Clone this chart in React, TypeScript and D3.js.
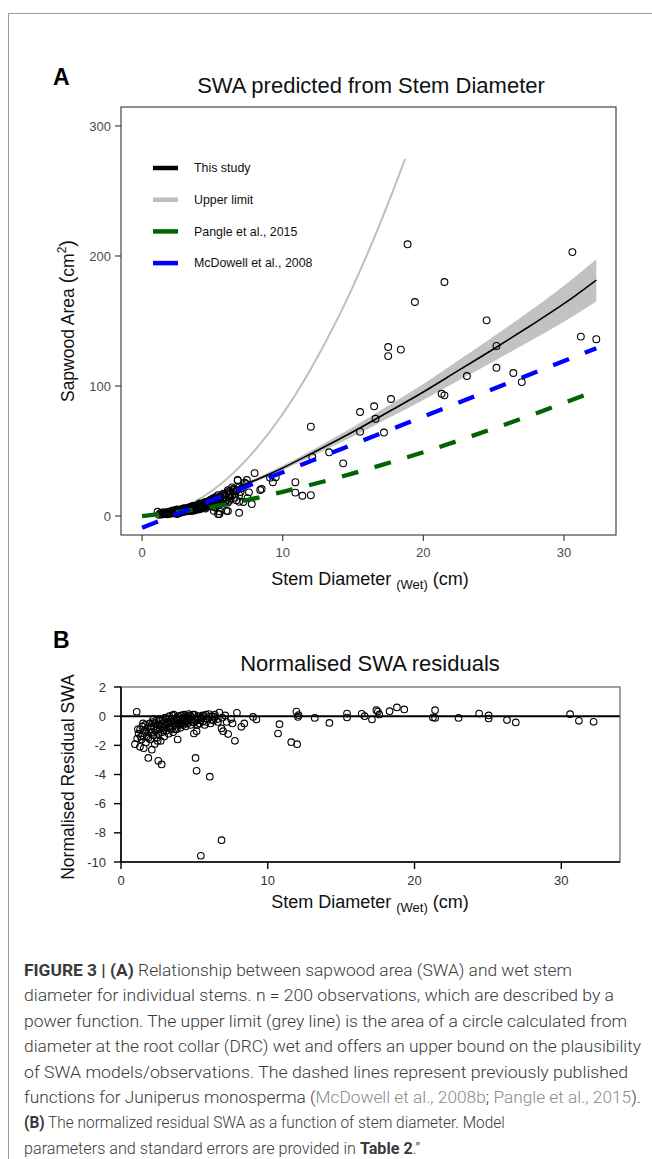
import React from "react";
import * as d3 from "d3";

const W = 652;
const H = 1159;

// ---------- Panel A data ----------
const obsPoints: [number, number][] = [
  [18.88, 209], [30.6, 203], [21.5, 180], [19.4, 164.6], [24.5, 150.5], [17.5, 130], [17.5, 123],
  [18.4, 128], [25.2, 130.8], [31.2, 138], [32.3, 136], [25.2, 114], [26.4, 110], [27.0, 103],
  [23.1, 107.7], [21.3, 94], [21.5, 92.8], [17.7, 90], [12.0, 68.7], [15.5, 80], [16.5, 84.4],
  [16.6, 74.8], [15.5, 64.9], [17.2, 64.2], [13.3, 49], [14.3, 40.5], [12.1, 45.4], [8.0, 33], [10.9, 26],
  [10.9, 18], [11.4, 15.6], [12.0, 16], [6.8, 27.7], [7.4, 24.6], [9.1, 29.5], [9.5, 29.8], [9.3, 26],
  [8.4, 20], [8.5, 20.8], [7.6, 18.2], [7.8, 9.2], [7.2, 10.8], [6.9, 11], [6.9, 2.5], [6.1, 3.8],
  [5.5, 1.5], [5.1, 4], [6.5, 20], [6.2, 19], [6.8, 27.4], [7.3, 25.6], [7.45, 27.7], [1.1, 3.3],
  [5.4, 1.5], [5.5, 3.6], [6.0, 4],
  [1.2, 1.0], [1.4, 1.2], [1.5, 2.0], [1.6, 1.5], [1.7, 2.6], [1.8, 1.4], [1.9, 2.2], [2.0, 3.1],
  [2.0, 1.8], [2.1, 2.6], [2.2, 3.5], [2.3, 2.0], [2.3, 4.1], [2.4, 2.9], [2.5, 3.6], [2.5, 1.6],
  [2.6, 4.4], [2.7, 2.5], [2.8, 3.9], [2.8, 5.2], [2.9, 3.0], [3.0, 4.6], [3.0, 6.0], [3.1, 3.8],
  [3.2, 5.4], [3.3, 4.2], [3.3, 6.6], [3.4, 5.0], [3.5, 7.2], [3.5, 3.9], [3.6, 5.9], [3.7, 6.8],
  [3.8, 4.8], [3.9, 7.6], [4.0, 6.2], [4.0, 8.8], [4.1, 5.3], [4.2, 7.4], [4.3, 9.5], [4.4, 6.6],
  [4.5, 8.3], [4.5, 10.8], [4.6, 7.0], [4.7, 9.6], [4.8, 11.9], [4.9, 8.4], [5.0, 13.2], [5.0, 10.1],
  [5.2, 12.0], [5.3, 9.0], [5.3, 15.1], [5.5, 13.8], [5.6, 11.0], [5.7, 16.5], [5.8, 12.6],
  [5.9, 14.6], [6.0, 17.8], [6.1, 10.4], [6.2, 15.0], [6.3, 13.5], [6.4, 15.9], [6.5, 21.0],
  [6.6, 16.8], [6.7, 12.2], [6.9, 22.3], [7.0, 18.5], [1.3, 2.1], [1.5, 3.0], [1.8, 2.9], [2.1, 3.9],
  [2.4, 4.6], [2.6, 3.1], [2.9, 5.6], [3.1, 5.1], [3.4, 6.2], [3.6, 4.4], [3.8, 6.0], [4.1, 7.9],
  [4.3, 6.8], [4.6, 9.1], [4.8, 7.6], [5.1, 11.3], [5.4, 8.1], [5.6, 14.9], [5.9, 10.9], [6.3, 17.2],
  [2.2, 2.4], [2.7, 4.0], [3.2, 3.7], [3.7, 5.3], [4.2, 6.0], [4.4, 9.9], [4.9, 12.6], [5.2, 6.6],
  [1.6, 2.3], [1.9, 3.4], [2.0, 2.6], [2.2, 4.3], [2.4, 3.3], [2.5, 5.0], [2.6, 2.2], [2.8, 4.5],
  [3.0, 3.4], [3.0, 5.3], [3.2, 6.1], [3.3, 4.8], [3.5, 5.5], [3.6, 7.8], [3.7, 4.2], [3.9, 6.4],
  [4.0, 5.0], [4.1, 9.6], [4.2, 8.3], [4.4, 7.5], [4.5, 5.8], [4.6, 10.2], [4.7, 8.0], [4.9, 10.6],
  [5.0, 7.2], [5.1, 13.9], [5.3, 11.2], [5.4, 16.0], [5.6, 9.4], [5.7, 13.0], [5.8, 17.2],
  [6.0, 12.4], [6.1, 19.8], [6.2, 11.8], [6.4, 22.0], [6.6, 14.0], [6.7, 19.5], [6.9, 16.0],
  [7.1, 21.6], [7.5, 13.8],
];

const fitD = [1, 2, 3, 5, 7.5, 10, 12.5, 15, 17.5, 20, 22.5, 25, 27.5, 30, 32.3];
const fitSWA = [1.63, 4.18, 7.43, 14.9, 25.0, 37.0, 50.6, 64.8, 80.0, 95.4, 112, 128.5, 145.6, 163.3, 181.5];
const fitLower = [1.43, 3.85, 6.98, 14.2, 23.8, 35.2, 48.1, 61.2, 75.2, 89.2, 104.2, 118.9, 134.0, 149.4, 165.0];
const fitUpper = [1.83, 4.51, 7.88, 15.6, 26.3, 38.9, 53.1, 68.4, 84.8, 101.6, 119.8, 138.1, 157.2, 177.2, 197.5];

const upperD = [1, 2, 4, 6, 8, 10, 12, 14, 16, 18, 18.7];
const upperSWA = [0.79, 3.14, 12.6, 28.3, 50.3, 78.5, 113.1, 153.9, 201.1, 254.5, 274.6];

const pangleD = [0, 5, 10, 15, 20, 25, 30, 32.3];
const pangleSWA = [0, 7.0, 18.6, 32.8, 49.1, 67.3, 86.9, 96.4];

const mcdD = [0, 10, 20, 32.3];
const mcdSWA = [-9, 33.7, 76.4, 129];

const xTicksA = [0, 10, 20, 30];
const yTicksA = [0, 100, 200, 300];

const legendLabels = ["This study", "Upper limit", "Pangle et al., 2015", "McDowell et al., 2008"];
const legendColors = ["#000000", "#BEBEBE", "#006400", "#0000FF"];

// ---------- Panel B data ----------
const residPoints: [number, number][] = [
  [1.07, 0.3], [0.95, -1.92], [1.1, -1.53], [1.29, -2.1], [1.2, -1.2], [1.3, -0.9], [1.4, -1.6],
  [1.45, -0.7], [1.5, -1.3], [1.55, -2.2], [1.6, -1.0], [1.65, -0.6], [1.7, -1.8], [1.75, -1.4],
  [1.8, -0.8], [1.86, -2.86], [1.9, -1.1], [1.95, -0.5], [2.0, -1.6], [2.05, -0.9], [2.1, -2.3],
  [2.15, -0.4], [2.2, -1.3], [2.25, -0.7], [2.3, -1.9], [2.35, -1.0], [2.4, -0.3], [2.45, -1.5],
  [2.5, -0.6], [2.54, -3.06], [2.55, -1.2], [2.6, -0.2], [2.65, -0.9], [2.7, -1.7], [2.77, -3.31],
  [2.75, -0.5], [2.8, -1.1], [2.85, -0.3], [2.9, -0.8], [2.95, -1.4], [3.0, -0.1], [3.05, -0.6],
  [3.1, -1.0], [3.15, -0.4], [3.2, -0.8], [3.25, -1.2], [3.3, 0.0], [3.35, -0.5], [3.4, -0.9],
  [3.45, -0.2], [3.5, -0.7], [3.55, -1.1], [3.6, 0.1], [3.65, -0.4], [3.7, -0.6], [3.75, -0.2],
  [3.8, -0.9], [3.86, -1.6], [3.9, 0.0], [3.95, -0.5], [4.0, -0.3], [4.05, -0.8], [4.1, 0.05],
  [4.15, -0.4], [4.2, -0.2], [4.25, -0.6], [4.3, 0.1], [4.35, -0.3], [4.4, -0.7], [4.5, -0.1],
  [4.55, -0.5], [4.6, 0.15], [4.7, -0.3], [4.75, -0.6], [4.8, -0.05], [4.9, -0.4], [4.97, -1.19],
  [5.0, 0.1], [5.08, -2.86], [5.1, -0.3], [5.15, -1.03], [5.15, -3.75], [5.2, -0.6], [5.25, 0.0],
  [5.3, -0.2], [5.35, -0.5], [5.44, -9.57], [5.5, -0.1], [5.55, 0.05], [5.6, -0.35], [5.7, -0.6],
  [5.8, 0.1], [5.9, -0.2], [6.0, -0.05], [6.05, -4.15], [6.1, -0.5], [6.2, 0.0], [6.3, -0.3],
  [6.4, 0.1], [6.6, -0.2], [6.7, 0.25], [6.85, -0.84], [6.85, -8.5], [6.96, -1.03], [6.9, -0.1],
  [7.1, 0.05], [7.2, -0.4], [7.3, -1.23], [7.76, -1.69], [7.5, -0.2], [7.6, -0.5], [7.9, 0.23],
  [8.2, -0.73], [8.4, -0.5], [9.0, -0.05], [9.23, -0.23], [10.8, -0.55], [10.7, -1.19], [11.6, -1.78],
  [12.0, -1.92], [11.95, 0.32], [12.06, -0.05], [12.1, 0.07], [13.2, -0.12], [14.2, -0.46],
  [15.4, 0.18], [15.4, -0.09], [16.4, 0.16], [16.6, 0.0], [17.1, -0.23], [17.4, 0.41], [17.5, 0.32],
  [17.6, 0.12], [18.3, 0.34], [18.8, 0.6], [19.3, 0.46], [21.4, 0.41], [21.25, -0.09], [21.4, -0.12],
  [23.0, -0.12], [24.4, 0.18], [25.05, 0.05], [25.05, -0.16], [26.3, -0.27], [26.9, -0.43],
  [30.6, 0.14], [31.2, -0.32], [32.2, -0.39],
  [1.15, -0.9], [1.35, -1.4], [1.5, -0.5], [1.7, -1.1], [1.85, -1.5], [2.0, -0.7], [2.1, -1.1],
  [2.2, -0.2], [2.3, -0.5], [2.4, -0.9], [2.5, -1.7], [2.6, -0.6], [2.7, -0.3], [2.8, -0.7],
  [2.9, -1.0], [3.0, -0.4], [3.1, -0.2], [3.2, -0.5], [3.3, -0.7], [3.4, -0.4], [3.5, 0.05],
  [3.6, -0.3], [3.7, -0.9], [3.8, -0.1], [3.9, -0.3], [4.0, -0.6], [4.1, -0.2], [4.2, -0.5],
  [4.3, -0.1], [4.4, 0.0], [4.5, -0.35], [4.6, -0.15], [4.7, 0.05], [4.8, -0.25], [4.9, 0.1],
  [5.0, -0.45], [5.2, -0.15], [5.4, -0.3], [5.6, 0.0], [5.8, -0.4], [6.0, 0.15], [6.2, -0.25],
  [6.4, -0.05], [6.6, -0.4],
];

const xTicksB = [0, 10, 20, 30];
const yTicksB = [2, 0, -2, -4, -6, -8, -10];

// ---------- Caption ----------
type Seg = { t: string; b?: boolean; g?: boolean };
const captionLines: Seg[][] = [
  [{ t: "FIGURE 3 | (A)", b: true }, { t: " Relationship between sapwood area (SWA) and wet stem" }],
  [{ t: "diameter for individual stems. n = 200 observations, which are described by a" }],
  [{ t: "power function. The upper limit (grey line) is the area of a circle calculated from" }],
  [{ t: "diameter at the root collar (DRC) wet and offers an upper bound on the plausibility" }],
  [{ t: "of SWA models/observations. The dashed lines represent previously published" }],
  [
    { t: "functions for Juniperus monosperma (" },
    { t: "McDowell et al., 2008b", g: true },
    { t: "; " },
    { t: "Pangle et al., 2015", g: true },
    { t: ")." },
  ],
  [{ t: "(B)", b: true }, { t: " The normalized residual SWA as a function of stem diameter. Model" }],
  [{ t: "parameters and standard errors are provided in " }, { t: "Table 2", b: true }, { t: ".\u201D" }],
];
const captionWidths: (number | undefined)[] = [548, 590, 603, 617, 604, 617, undefined, undefined];
const captionScaleX = [1, 1, 1, 1, 1, 1, 0.908, 0.952];

const FONT = "'Liberation Sans', Arial, Helvetica, sans-serif";

export default function App() {
  // Panel A scales
  const xA = d3.scaleLinear().domain([-1.5, 33.7]).range([121, 616]);
  const yA = d3.scaleLinear().domain([-14.6, 314.6]).range([535, 107]);

  const lineA = (ds: number[], vs: number[], curve: d3.CurveFactory = d3.curveMonotoneX) =>
    d3
      .line<number>()
      .x((_, i) => xA(ds[i]))
      .y((v) => yA(v))
      .curve(curve)(vs) || "";

  const band =
    d3
      .area<number>()
      .x((_, i) => xA(fitD[i]))
      .y0((_, i) => yA(fitLower[i]))
      .y1((_, i) => yA(fitUpper[i]))
      .curve(d3.curveMonotoneX)(fitD) || "";

  // Panel B scales
  const xB = d3.scaleLinear().domain([0, 34]).range([121, 620]);
  const yB = d3.scaleLinear().domain([-10, 2]).range([862, 687]);

  return (
    <svg
      width={W}
      height={H}
      viewBox={`0 0 ${W} ${H}`}
      style={{ position: "absolute", left: 0, top: 0, background: "#fff" }}
      fontFamily={FONT}
    >
      <rect x={0} y={0} width={W} height={H} fill="#fff" />
      {/* frame */}
      <line x1={8} y1={13.5} x2={W} y2={13.5} stroke="#9a9a9a" strokeWidth={1} />
      <line x1={8.5} y1={13} x2={8.5} y2={H} stroke="#9a9a9a" strokeWidth={1} />

      {/* ================= Panel A ================= */}
      <text x={53} y={85} fontSize={23} fontWeight="bold" fill="#000">A</text>
      <text x={371} y={93} fontSize={22} textAnchor="middle" fill="#111">
        SWA predicted from Stem Diameter
      </text>

      <defs>
        <clipPath id="clipA">
          <rect x={121} y={107} width={495} height={428} />
        </clipPath>
      </defs>

      <g clipPath="url(#clipA)">
        <path d={band} fill="#c2c2c2" stroke="none" />
        <path d={lineA(upperD, upperSWA)} fill="none" stroke="#BEBEBE" strokeWidth={2} />
        {obsPoints.map(([d, s], i) => (
          <circle key={i} cx={xA(d)} cy={yA(s)} r={3.4} fill="none" stroke="#000" strokeWidth={1.1} />
        ))}
        <path d={lineA(fitD, fitSWA)} fill="none" stroke="#000" strokeWidth={1.6} />
        <path
          d={lineA(pangleD, pangleSWA)}
          fill="none"
          stroke="#006400"
          strokeWidth={4.3}
          strokeDasharray="17 17"
        />
        <path
          d={lineA(mcdD, mcdSWA, d3.curveLinear)}
          fill="none"
          stroke="#0000FF"
          strokeWidth={4.3}
          strokeDasharray="17 17"
        />
      </g>
      <rect x={121} y={107} width={495} height={428} fill="none" stroke="#333" strokeWidth={1.1} />

      {/* axes A */}
      {yTicksA.map((t) => (
        <g key={t}>
          <line x1={115} x2={121} y1={yA(t)} y2={yA(t)} stroke="#333" strokeWidth={1.1} />
          <text x={111} y={yA(t)} dy="0.35em" fontSize={13} textAnchor="end" fill="#4d4d4d">
            {t}
          </text>
        </g>
      ))}
      {xTicksA.map((t) => (
        <g key={t}>
          <line x1={xA(t)} x2={xA(t)} y1={535} y2={541} stroke="#333" strokeWidth={1.1} />
          <text x={xA(t)} y={557} fontSize={13} textAnchor="middle" fill="#4d4d4d">
            {t}
          </text>
        </g>
      ))}
      <text x={370} y={585} fontSize={18} textAnchor="middle" fill="#111">
        Stem Diameter <tspan fontSize={13} dy={4}>(Wet)</tspan>
        <tspan dy={-4}> (cm)</tspan>
      </text>
      <text transform="translate(74,321) rotate(-90)" fontSize={17.5} textAnchor="middle" fill="#111">
        Sapwood Area <tspan fontSize={20}>(</tspan>cm<tspan fontSize={12} dy={-8}>2</tspan>
        <tspan fontSize={20} dy={8}>)</tspan>
      </text>

      {/* legend */}
      {legendLabels.map((lab, i) => {
        const y = 168 + i * 31.7;
        return (
          <g key={lab}>
            <line x1={153} x2={178} y1={y} y2={y} stroke={legendColors[i]} strokeWidth={4.5} />
            <text x={194} y={y} dy="0.35em" fontSize={12.4} fill="#111">
              {lab}
            </text>
          </g>
        );
      })}

      {/* ================= Panel B ================= */}
      <text x={53} y={648} fontSize={23} fontWeight="bold" fill="#000">B</text>
      <text x={370} y={671} fontSize={22} textAnchor="middle" fill="#111">
        Normalised SWA residuals
      </text>
      <defs>
        <clipPath id="clipB">
          <rect x={121} y={687} width={499} height={175} />
        </clipPath>
      </defs>
      <g clipPath="url(#clipB)">
        <line x1={121} x2={620} y1={yB(0)} y2={yB(0)} stroke="#000" strokeWidth={2} />
      </g>
      {residPoints.map(([d, r], i) => (
        <circle key={i} cx={xB(d)} cy={yB(r)} r={3.3} fill="none" stroke="#000" strokeWidth={1.1} />
      ))}
      <rect x={121} y={687} width={499} height={175} fill="none" stroke="#555" strokeWidth={1.1} />
      <line x1={121} x2={121} y1={687} y2={862} stroke="#000" strokeWidth={1.6} />
      <line x1={121} x2={620} y1={862} y2={862} stroke="#000" strokeWidth={1.6} />
      {yTicksB.map((t) => (
        <g key={t}>
          <line x1={114} x2={121} y1={yB(t)} y2={yB(t)} stroke="#000" strokeWidth={1.4} />
          <text x={106} y={yB(t)} dy="0.35em" fontSize={13} textAnchor="end" fill="#333">
            {t}
          </text>
        </g>
      ))}
      {xTicksB.map((t) => (
        <g key={t}>
          <line x1={xB(t)} x2={xB(t)} y1={862} y2={869} stroke="#000" strokeWidth={1.4} />
          <text x={xB(t)} y={885} fontSize={13} textAnchor="middle" fill="#333">
            {t}
          </text>
        </g>
      ))}
      <text x={370} y={908} fontSize={18} textAnchor="middle" fill="#111">
        Stem Diameter <tspan fontSize={13} dy={4}>(Wet)</tspan>
        <tspan dy={-4}> (cm)</tspan>
      </text>
      <text transform="translate(74,777) rotate(-90)" fontSize={17.5} textAnchor="middle" fill="#111">
        Normalised Residual SWA
      </text>

      {/* ================= Caption ================= */}
      {captionLines.map((segs, i) => (
        <text
          key={i}
          x={0}
          y={0}
          transform={`translate(24,${976 + i * 25.4}) scale(${captionScaleX[i]},1)`}
          fontSize={17}
          fontFamily="Roboto, 'Liberation Sans', sans-serif"
          fontWeight={300}
          fill="#3a3a3a"
          textLength={captionWidths[i]}
          lengthAdjust={captionWidths[i] ? "spacingAndGlyphs" : undefined}
        >
          {segs.map((s, j) => (
            <tspan key={j} fontWeight={s.b ? 700 : 300} fill={s.g ? "#8a8a8a" : "#3a3a3a"}>
              {s.t}
            </tspan>
          ))}
        </text>
      ))}
    </svg>
  );
}
